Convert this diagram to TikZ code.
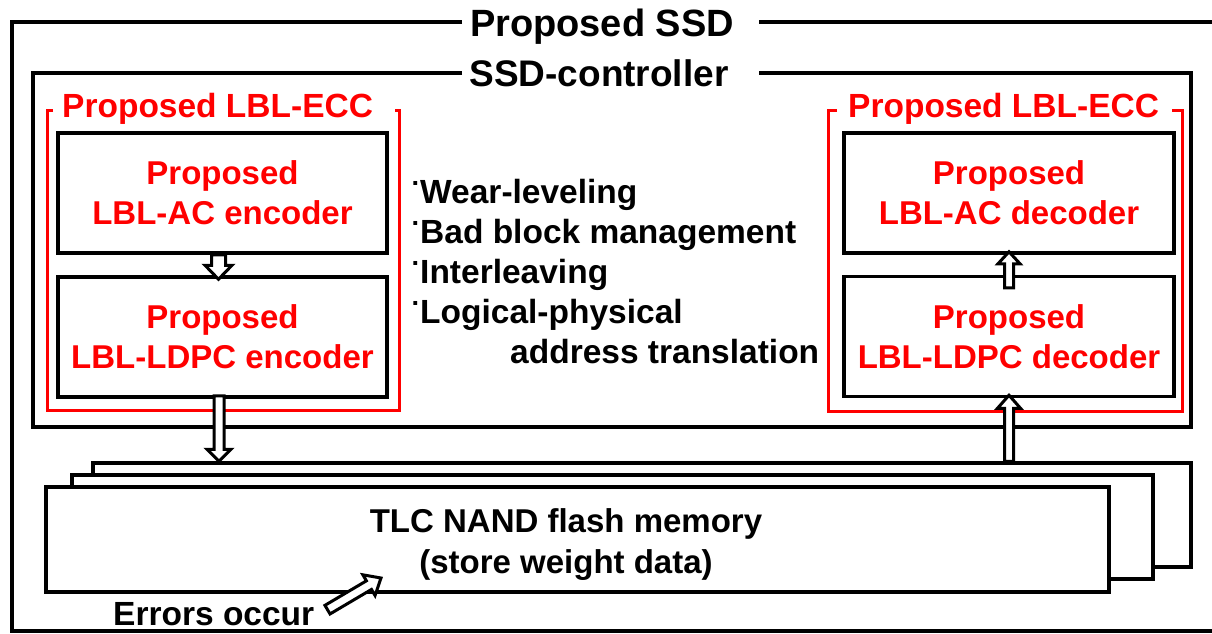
\documentclass[tikz,border=0pt]{standalone}
\usepackage{fontspec}
\setmainfont{Liberation Sans}
\usetikzlibrary{calc}
\definecolor{eccred}{RGB}{255,0,0}

% hollow block arrow: #1 name, #2 tail, #3 tip, #4 half shaft width,
% #5 half head width, #6 head length
\newcommand\hollowarrow[6]{%
  \coordinate (#1-t) at (#2);
  \coordinate (#1-p) at (#3);
  \coordinate (#1-b) at ($(#1-p)!#6!(#1-t)$);
  \draw[arrowline]
    ($(#1-t)!#4!90:(#1-p)$) -- ($(#1-b)!#4!90:(#1-p)$) --
    ($(#1-b)!#5!90:(#1-p)$) -- (#1-p) --
    ($(#1-b)!#5!-90:(#1-p)$) -- ($(#1-b)!#4!-90:(#1-p)$) --
    ($(#1-t)!#4!-90:(#1-p)$) -- cycle;
}
\newcommand\itemdot{\makebox[12pt][r]{\raisebox{11pt}{\fontsize{27}{27}\selectfont ·}\hspace{-0.5pt}}}

\begin{document}
\begin{tikzpicture}[x=1pt,y=-1pt,
  frame/.style={draw=black, line width=3.5pt},
  redframe/.style={draw=eccred, line width=3pt},
  block/.style={draw=black, line width=3.5pt, fill=white, minimum height=120pt,
    align=center, text=eccred, inner sep=0pt,
    font=\bfseries\fontsize{33}{40}\selectfont},
  membox/.style={draw=black, line width=3.5pt, fill=white, inner sep=0pt},
  arrowline/.style={draw=black, fill=white, line width=3pt, line join=miter},
  bigtitle/.style={inner sep=0pt, anchor=base},
  redtitle/.style={inner sep=0pt, anchor=base west, text=eccred,
    font=\bfseries\fontsize{33.5}{33.5}\selectfont},
  plain/.style={inner sep=0pt, anchor=base west,
    font=\bfseries\fontsize{33.5}{33.5}\selectfont},
  memtext/.style={inner sep=0pt, align=center,
    font=\bfseries\fontsize{33}{41}\selectfont}]

\useasboundingbox (0,0) rectangle (1212,633);
\clip (0,0) rectangle (1212,633);
\fill[white] (0,0) rectangle (1212,633);

% outer SSD frame and controller frame, open where the titles sit
\draw[frame] (462,22) -- (12,22) -- (12,631) -- (1220,631);
\draw[frame] (759,22) -- (1220,22);
\draw[frame] (462,73) -- (33,73) -- (33,427) -- (1191,427) -- (1191,73) -- (759,73);

% ECC groups
\draw[redframe] (53,110) -- (47,110) -- (47,410) -- (399,410) -- (399,110) -- (395,110);
\draw[redframe] (837,110) -- (828,110) -- (828,411) -- (1182,411) -- (1182,110) -- (1172,110);

\node[bigtitle, font=\bfseries\fontsize{38}{38}\selectfont] (ssd) at (602,36) {Proposed SSD};
\node[bigtitle, font=\bfseries\fontsize{37}{37}\selectfont] (ctrl) at (599,86) {SSD-controller};
\node[redtitle] (eccL) at (62,117) {Proposed LBL-ECC};
\node[redtitle] (eccR) at (848,117) {Proposed LBL-ECC};

% encoder / decoder blocks
\node[block, minimum width=329pt] (enc1) at (222.5,193) {Proposed\\LBL-AC encoder};
\node[block, minimum width=329pt] (enc2) at (222.5,337) {Proposed\\LBL-LDPC encoder};
\node[block, minimum width=330pt] (dec1) at (1009,193) {Proposed\\LBL-AC decoder};
\node[block, minimum width=330pt] (dec2) at (1009,336.5) {Proposed\\LBL-LDPC decoder};

% controller functions
\node[plain] (f1) at (408,203) {\itemdot Wear-leveling};
\node[plain] (f2) at (408,243) {\itemdot Bad block management};
\node[plain] (f3) at (408,283) {\itemdot Interleaving};
\node[plain] (f4) at (408,323) {\itemdot Logical-physical};
\node[plain] (f5) at (510,363) {address translation};

% stacked flash chips
\node[membox, minimum width=1098pt, minimum height=104pt] (mem3) at (642,515) {};
\node[membox, minimum width=1081pt, minimum height=104pt] (mem2) at (612.5,527) {};
\node[membox, minimum width=1063pt, minimum height=105pt] (mem1) at (577.5,539.5) {};
\node[memtext] (memlabel) at (566,545) {TLC NAND flash memory\\(store weight data)};

\node[plain] (err) at (113,625) {Errors occur};

% data flow
\coordinate (e2x) at ($(enc2.south)+(-3.5,0)$);
\coordinate (errtip) at (381,578);
\hollowarrow{a1}{$(enc1.south)+(-4,0)$}{$(enc2.north)+(-4,4)$}{7pt}{13.5pt}{14pt}
\hollowarrow{a2}{$(e2x)+(0,-3)$}{e2x |- mem3.north}{5pt}{12pt}{12pt}
\hollowarrow{a3}{$(dec2.north)+(0,13)$}{$(dec1.south)+(0,-3)$}{4.5pt}{11pt}{12pt}
\hollowarrow{a4}{dec2.south |- mem3.north}{$(dec2.south)+(0,-3)$}{4.5pt}{11.5pt}{13pt}
\hollowarrow{a5}{$(err.east)+(13,-4)$}{errtip}{5pt}{12pt}{14pt}

\end{tikzpicture}
\end{document}
